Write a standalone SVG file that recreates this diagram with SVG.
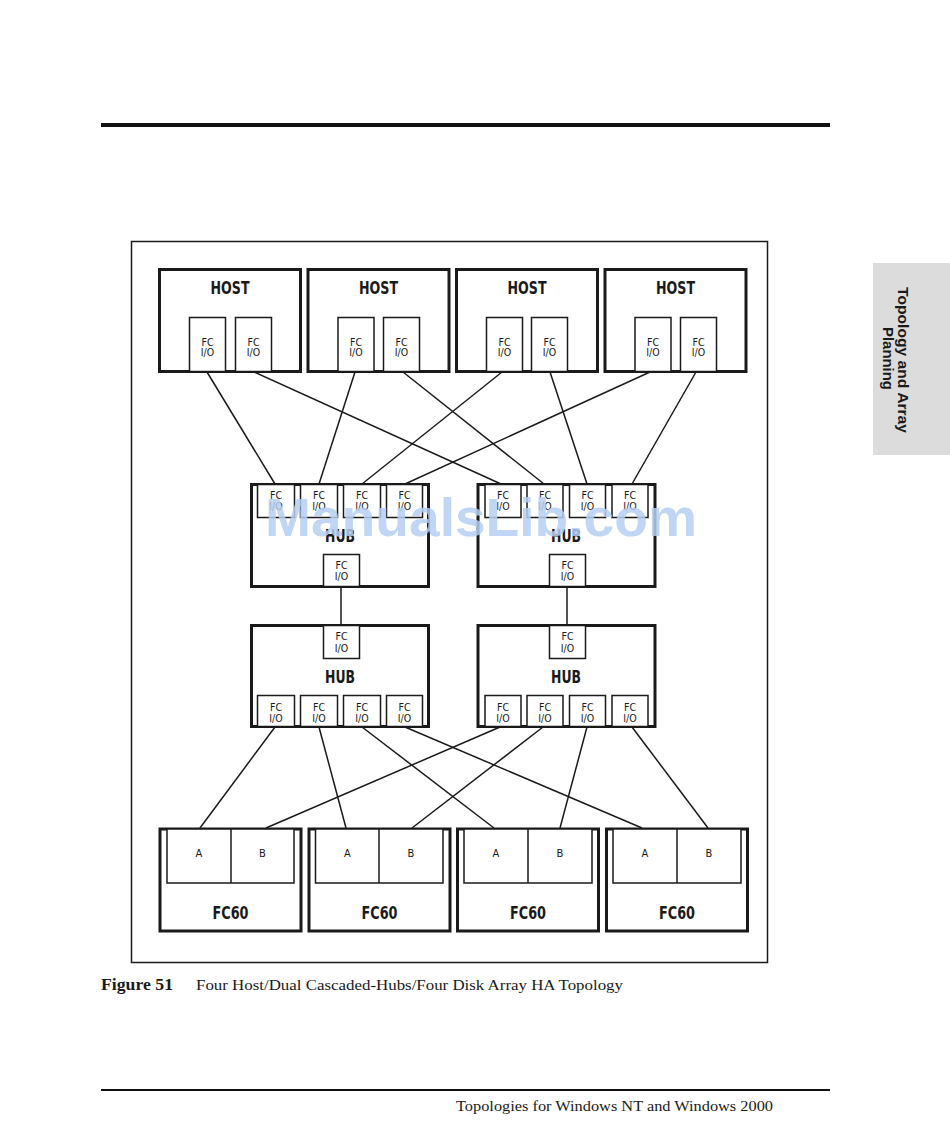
<svg xmlns="http://www.w3.org/2000/svg" width="950" height="1140" viewBox="0 0 950 1140">
<style>
.box{fill:#fff;stroke:#1a1a1a;stroke-width:3}
.port{fill:#fff;stroke:#1a1a1a;stroke-width:1.5}
.plab{font-family:"DejaVu Sans Condensed","DejaVu Sans",sans-serif;font-size:10.5px;fill:#1a1a1a;text-anchor:middle}
.big{font-family:"DejaVu Sans Condensed","DejaVu Sans",sans-serif;font-weight:bold;font-size:18px;fill:#1a1a1a;text-anchor:middle}
.ab{font-family:"DejaVu Sans Condensed","DejaVu Sans",sans-serif;font-size:11px;fill:#1a1a1a;text-anchor:middle}
.conn line{stroke:#1a1a1a;stroke-width:1.5}
.serif{font-family:"Liberation Serif",serif;fill:#1a1a1a}
</style>
<rect width="950" height="1140" fill="#fff"/>
<rect x="101" y="123" width="729" height="4" fill="#111"/>
<rect x="101" y="1089" width="729" height="2" fill="#111"/>
<g id="tab">
<rect x="873" y="263" width="77" height="192" fill="#dcdcdc"/>
<text transform="translate(898,287) rotate(90)" font-family="Liberation Sans,sans-serif" font-weight="bold" font-size="14.5" fill="#1a1a1a" textLength="146" lengthAdjust="spacingAndGlyphs">Topology and Array</text>
<text transform="translate(883,327) rotate(90)" font-family="Liberation Sans,sans-serif" font-weight="bold" font-size="14.5" fill="#1a1a1a" textLength="63" lengthAdjust="spacingAndGlyphs">Planning</text>
</g>
<rect x="131.5" y="241.5" width="636" height="721" fill="none" stroke="#1a1a1a" stroke-width="1.5"/>

<g class="conn" id="connectors">
<line x1="207" y1="372" x2="275" y2="484"/>
<line x1="254" y1="372" x2="501" y2="484"/>
<line x1="355" y1="372" x2="319" y2="484"/>
<line x1="403" y1="372" x2="544" y2="484"/>
<line x1="502" y1="372" x2="362" y2="484"/>
<line x1="550" y1="372" x2="587" y2="484"/>
<line x1="650" y1="372" x2="405" y2="484"/>
<line x1="696" y1="372" x2="632" y2="484"/>
<line x1="341" y1="587" x2="341" y2="624"/>
<line x1="567" y1="587" x2="567" y2="624"/>
<line x1="275" y1="727" x2="200" y2="828"/>
<line x1="319" y1="727" x2="346" y2="828"/>
<line x1="362" y1="727" x2="494" y2="828"/>
<line x1="405" y1="727" x2="642" y2="828"/>
<line x1="500" y1="727" x2="266" y2="828"/>
<line x1="543" y1="727" x2="412" y2="828"/>
<line x1="587" y1="727" x2="560" y2="828"/>
<line x1="632" y1="727" x2="708" y2="828"/>
</g>

<g id="host1">
<rect class="box" x="159.5" y="269.5" width="141" height="102"/>
<text class="big" x="230" y="294" textLength="39" lengthAdjust="spacingAndGlyphs">HOST</text>
<rect class="port" x="189.5" y="317.5" width="36" height="54"/><text class="plab" x="207.5" y="346">FC</text><text class="plab" x="207.5" y="356">I/O</text>
<rect class="port" x="235.5" y="317.5" width="36" height="54"/><text class="plab" x="253.5" y="346">FC</text><text class="plab" x="253.5" y="356">I/O</text>
</g>
<g id="host2">
<rect class="box" x="308" y="269.5" width="141" height="102"/>
<text class="big" x="378.5" y="294" textLength="39" lengthAdjust="spacingAndGlyphs">HOST</text>
<rect class="port" x="338" y="317.5" width="36" height="54"/><text class="plab" x="356" y="346">FC</text><text class="plab" x="356" y="356">I/O</text>
<rect class="port" x="383.5" y="317.5" width="36" height="54"/><text class="plab" x="401.5" y="346">FC</text><text class="plab" x="401.5" y="356">I/O</text>
</g>
<g id="host3">
<rect class="box" x="456.5" y="269.5" width="141" height="102"/>
<text class="big" x="527" y="294" textLength="39" lengthAdjust="spacingAndGlyphs">HOST</text>
<rect class="port" x="486.5" y="317.5" width="36" height="54"/><text class="plab" x="504.5" y="346">FC</text><text class="plab" x="504.5" y="356">I/O</text>
<rect class="port" x="531.5" y="317.5" width="36" height="54"/><text class="plab" x="549.5" y="346">FC</text><text class="plab" x="549.5" y="356">I/O</text>
</g>
<g id="host4">
<rect class="box" x="605" y="269.5" width="141" height="102"/>
<text class="big" x="675.5" y="294" textLength="39" lengthAdjust="spacingAndGlyphs">HOST</text>
<rect class="port" x="635" y="317.5" width="36" height="54"/><text class="plab" x="653" y="346">FC</text><text class="plab" x="653" y="356">I/O</text>
<rect class="port" x="680.5" y="317.5" width="36" height="54"/><text class="plab" x="698.5" y="346">FC</text><text class="plab" x="698.5" y="356">I/O</text>
</g>

<g id="hub1">
<rect class="box" x="251.5" y="484.5" width="177" height="102"/>
<text class="big" x="340" y="542" textLength="30" lengthAdjust="spacingAndGlyphs">HUB</text>
<rect class="port" x="257.5" y="484.5" width="37" height="33"/><text class="plab" x="276" y="499">FC</text><text class="plab" x="276" y="510">I/O</text>
<rect class="port" x="300.5" y="484.5" width="37" height="33"/><text class="plab" x="319" y="499">FC</text><text class="plab" x="319" y="510">I/O</text>
<rect class="port" x="343.5" y="484.5" width="37" height="33"/><text class="plab" x="362" y="499">FC</text><text class="plab" x="362" y="510">I/O</text>
<rect class="port" x="386.5" y="484.5" width="36" height="33"/><text class="plab" x="404.5" y="499">FC</text><text class="plab" x="404.5" y="510">I/O</text>
<rect class="port" x="323.5" y="554.5" width="36" height="32"/><text class="plab" x="341.5" y="569">FC</text><text class="plab" x="341.5" y="580">I/O</text>
</g>
<g id="hub2">
<rect class="box" x="478" y="484.5" width="177" height="102"/>
<text class="big" x="566" y="542" textLength="30" lengthAdjust="spacingAndGlyphs">HUB</text>
<rect class="port" x="485" y="484.5" width="36" height="33"/><text class="plab" x="503" y="499">FC</text><text class="plab" x="503" y="510">I/O</text>
<rect class="port" x="527" y="484.5" width="36" height="33"/><text class="plab" x="545" y="499">FC</text><text class="plab" x="545" y="510">I/O</text>
<rect class="port" x="569.5" y="484.5" width="36" height="33"/><text class="plab" x="587.5" y="499">FC</text><text class="plab" x="587.5" y="510">I/O</text>
<rect class="port" x="612" y="484.5" width="36" height="33"/><text class="plab" x="630" y="499">FC</text><text class="plab" x="630" y="510">I/O</text>
<rect class="port" x="549.5" y="554.5" width="36" height="32"/><text class="plab" x="567.5" y="569">FC</text><text class="plab" x="567.5" y="580">I/O</text>
</g>
<g id="hub3">
<rect class="box" x="251.5" y="625.5" width="177" height="101"/>
<text class="big" x="340" y="683" textLength="30" lengthAdjust="spacingAndGlyphs">HUB</text>
<rect class="port" x="323.5" y="625.5" width="36" height="33"/><text class="plab" x="341.5" y="640">FC</text><text class="plab" x="341.5" y="652">I/O</text>
<rect class="port" x="257.5" y="695.5" width="37" height="31"/><text class="plab" x="276" y="711">FC</text><text class="plab" x="276" y="722">I/O</text>
<rect class="port" x="300.5" y="695.5" width="37" height="31"/><text class="plab" x="319" y="711">FC</text><text class="plab" x="319" y="722">I/O</text>
<rect class="port" x="343.5" y="695.5" width="37" height="31"/><text class="plab" x="362" y="711">FC</text><text class="plab" x="362" y="722">I/O</text>
<rect class="port" x="386.5" y="695.5" width="36" height="31"/><text class="plab" x="404.5" y="711">FC</text><text class="plab" x="404.5" y="722">I/O</text>
</g>
<g id="hub4">
<rect class="box" x="478" y="625.5" width="177" height="101"/>
<text class="big" x="566" y="683" textLength="30" lengthAdjust="spacingAndGlyphs">HUB</text>
<rect class="port" x="549.5" y="625.5" width="36" height="33"/><text class="plab" x="567.5" y="640">FC</text><text class="plab" x="567.5" y="652">I/O</text>
<rect class="port" x="485" y="695.5" width="36" height="31"/><text class="plab" x="503" y="711">FC</text><text class="plab" x="503" y="722">I/O</text>
<rect class="port" x="527" y="695.5" width="36" height="31"/><text class="plab" x="545" y="711">FC</text><text class="plab" x="545" y="722">I/O</text>
<rect class="port" x="569.5" y="695.5" width="36" height="31"/><text class="plab" x="587.5" y="711">FC</text><text class="plab" x="587.5" y="722">I/O</text>
<rect class="port" x="612" y="695.5" width="36" height="31"/><text class="plab" x="630" y="711">FC</text><text class="plab" x="630" y="722">I/O</text>
</g>

<g id="fc60-1">
<rect class="box" x="160" y="829" width="141" height="102"/>
<rect class="port" x="167" y="829" width="127" height="54"/>
<line x1="231" y1="829" x2="231" y2="883" stroke="#1a1a1a" stroke-width="1.5"/>
<text class="ab" x="199" y="857">A</text><text class="ab" x="262.5" y="857">B</text>
<text class="big" x="230.5" y="919" textLength="36" lengthAdjust="spacingAndGlyphs">FC60</text>
</g>
<g id="fc60-2">
<rect class="box" x="309" y="829" width="141" height="102"/>
<rect class="port" x="315.5" y="829" width="127.5" height="54"/>
<line x1="379" y1="829" x2="379" y2="883" stroke="#1a1a1a" stroke-width="1.5"/>
<text class="ab" x="347.5" y="857">A</text><text class="ab" x="411" y="857">B</text>
<text class="big" x="379.5" y="919" textLength="36" lengthAdjust="spacingAndGlyphs">FC60</text>
</g>
<g id="fc60-3">
<rect class="box" x="457.5" y="829" width="141" height="102"/>
<rect class="port" x="464" y="829" width="128" height="54"/>
<line x1="528" y1="829" x2="528" y2="883" stroke="#1a1a1a" stroke-width="1.5"/>
<text class="ab" x="496" y="857">A</text><text class="ab" x="560" y="857">B</text>
<text class="big" x="528" y="919" textLength="36" lengthAdjust="spacingAndGlyphs">FC60</text>
</g>
<g id="fc60-4">
<rect class="box" x="606.5" y="829" width="141" height="102"/>
<rect class="port" x="613" y="829" width="128" height="54"/>
<line x1="677" y1="829" x2="677" y2="883" stroke="#1a1a1a" stroke-width="1.5"/>
<text class="ab" x="645" y="857">A</text><text class="ab" x="709" y="857">B</text>
<text class="big" x="677" y="919" textLength="36" lengthAdjust="spacingAndGlyphs">FC60</text>
</g>

<text x="481" y="536" text-anchor="middle" font-family="Liberation Sans,Arial,sans-serif" font-weight="bold" font-size="54" fill="#b5cff2" fill-opacity="0.85" textLength="432" lengthAdjust="spacingAndGlyphs">ManualsLib.com</text>

<text class="serif" x="101" y="990" font-weight="bold" font-size="16" textLength="72" lengthAdjust="spacingAndGlyphs">Figure 51</text>
<text class="serif" x="196" y="990" font-size="15" textLength="427" lengthAdjust="spacingAndGlyphs">Four Host/Dual Cascaded-Hubs/Four Disk Array HA Topology</text>
<text class="serif" x="456" y="1111" font-size="15" textLength="317" lengthAdjust="spacingAndGlyphs">Topologies for Windows NT and Windows 2000</text>
</svg>
